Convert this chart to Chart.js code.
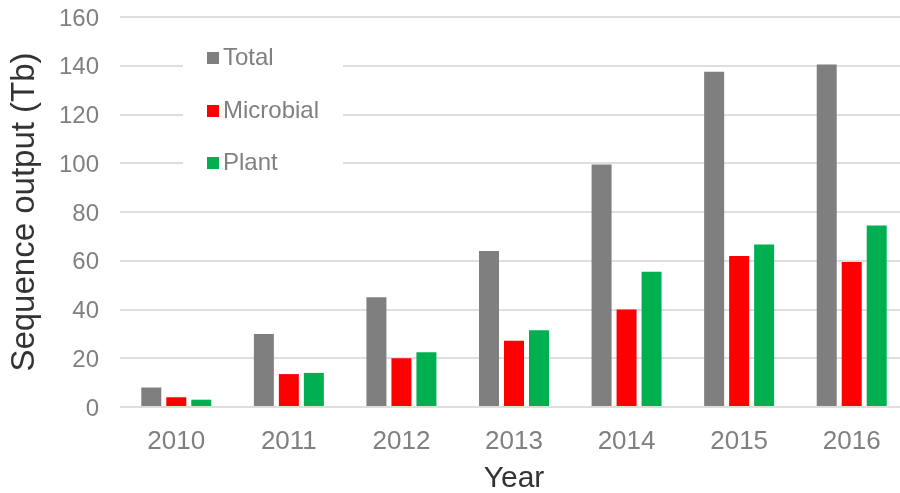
<!DOCTYPE html>
<html>
<head>
<meta charset="utf-8">
<title>Sequence output</title>
<script src="https://cdn.jsdelivr.net/npm/chart.js@4/dist/chart.umd.min.js"></script>
<style>
    html, body { margin: 0; padding: 0; overflow: hidden; background: #fff; }
    /* the reference is cropped on the right and bottom, so the canvas runs a little past the window */
    #wrap { width: 908px; height: 500px; position: relative; }
</style>
</head>
<body>
<div id="wrap"><canvas id="seqChart"></canvas></div>
<script>
const years = ['2010', '2011', '2012', '2013', '2014', '2015', '2016'];
const totalTb = [8, 30, 45, 64, 99.5, 137.5, 140.5];
const microbialTb = [4, 13.5, 20, 27.2, 40, 62, 59.5];
const plantTb = [3, 14, 22.5, 31.5, 55.5, 66.7, 74.5];

const FONT = "'Liberation Sans', Arial, sans-serif";
const tickColor = '#808080';
const titleColor = '#333333';

// legend drawn inside the plot, on a white patch that hides the gridlines
const insideLegend = {
    id: 'insideLegend',
    beforeDatasetsDraw(chart) {
        const ctx = chart.ctx;
        ctx.save();
        ctx.fillStyle = '#ffffff';
        ctx.fillRect(183, 36, 160, 156);
        const rows = [58, 111, 163];
        ctx.font = '24px ' + FONT;
        ctx.textBaseline = 'middle';
        ctx.textAlign = 'left';
        chart.data.datasets.forEach((ds, i) => {
            ctx.fillStyle = ds.backgroundColor;
            ctx.fillRect(207, rows[i] - 6, 12, 12);
            ctx.fillStyle = tickColor;
            ctx.fillText(ds.label, 223, rows[i]);
        });
        ctx.restore();
    }
};

new Chart(document.getElementById('seqChart'), {
    type: 'bar',
    data: {
        labels: years,
        datasets: [
            { label: 'Total', data: totalTb, backgroundColor: '#7f7f7f' },
            { label: 'Microbial', data: microbialTb, backgroundColor: '#ff0000' },
            { label: 'Plant', data: plantTb, backgroundColor: '#00b050' }
        ]
    },
    options: {
        responsive: true,
        maintainAspectRatio: false,
        animation: false,
        layout: { padding: { top: 17, left: 0, right: 0, bottom: 0 } },
        datasets: {
            bar: { barPercentage: 0.8, categoryPercentage: 0.666 }
        },
        plugins: {
            legend: { display: false },
            tooltip: { enabled: false }
        },
        scales: {
            x: {
                grid: { display: false, drawTicks: false },
                border: { display: false },
                ticks: {
                    color: tickColor,
                    padding: 19,
                    font: { family: FONT, size: 26 }
                },
                title: {
                    display: true,
                    text: 'Year',
                    color: titleColor,
                    font: { family: FONT, size: 30 },
                    padding: { top: 0, bottom: 3 }
                },
                afterFit(scale) {
                    scale.height = 93;
                    scale.paddingLeft = 0;
                    scale.paddingRight = 0;
                }
            },
            y: {
                min: 0,
                max: 160,
                grid: { color: '#dedede', lineWidth: 2, drawTicks: false },
                border: { display: false },
                ticks: {
                    stepSize: 20,
                    color: tickColor,
                    padding: 21,
                    labelOffset: 2,
                    font: { family: FONT, size: 24 }
                },
                title: {
                    display: true,
                    text: 'Sequence output (Tb)',
                    color: titleColor,
                    font: { family: FONT, size: 33 },
                    padding: { top: 5, bottom: 0 }
                },
                afterFit(scale) {
                    scale.width = 120;
                    scale.paddingTop = 0;
                    scale.paddingBottom = 0;
                }
            }
        }
    },
    plugins: [insideLegend]
});
</script>
</body>
</html>
